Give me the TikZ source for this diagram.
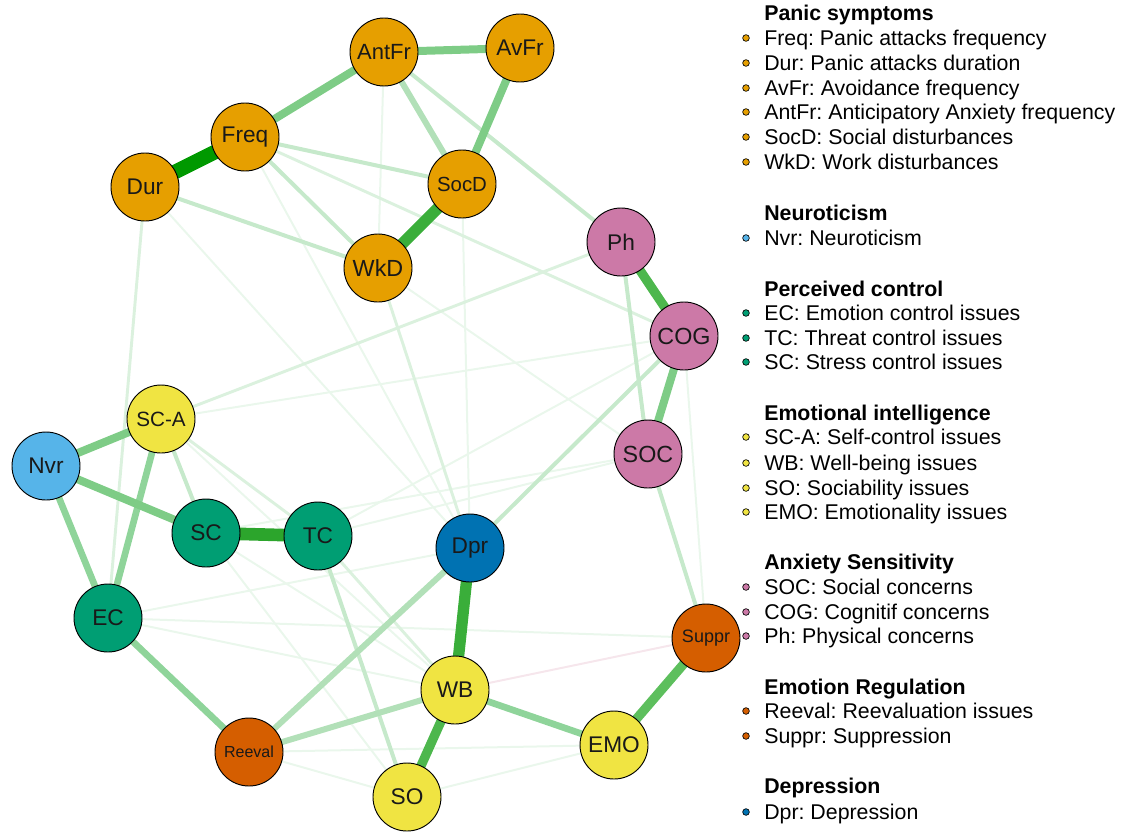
\documentclass[tikz,border=0pt]{standalone}
\usepackage{fontspec}
\setmainfont{Liberation Sans}
\frenchspacing
\usetikzlibrary{backgrounds}
\definecolor{cOr}{HTML}{E69F00}
\definecolor{cSky}{HTML}{56B4E9}
\definecolor{cGrn}{HTML}{009E73}
\definecolor{cYel}{HTML}{F0E442}
\definecolor{cPnk}{HTML}{CC79A7}
\definecolor{cVer}{HTML}{D55E00}
\definecolor{cBlu}{HTML}{0072B2}
\definecolor{eA}{HTML}{009900}
\definecolor{eB}{HTML}{2CA52C}
\definecolor{eC}{HTML}{3AAE3A}
\definecolor{eD}{HTML}{4DB74D}
\definecolor{eE}{HTML}{5DBF5D}
\definecolor{eM}{HTML}{7ECC86}
\definecolor{eMM}{HTML}{8FD49A}
\definecolor{eL}{HTML}{B2E0B8}
\definecolor{eLL}{HTML}{C6E9CB}
\definecolor{eF}{HTML}{DBF1DE}
\definecolor{eVF}{HTML}{EAF7EC}
\definecolor{eNeg}{HTML}{F6E6EC}
\begin{document}
\begin{tikzpicture}[x=0.75pt,y=-0.75pt,
  nd/.style={circle,draw=black,line width=0.7pt,minimum size=51pt,inner sep=0pt,text=black!90,font=\fontsize{17}{19}\selectfont},
  wA/.style={draw=eA,line width=11pt},
  wB/.style={draw=eB,line width=9.5pt},
  wC/.style={draw=eC,line width=8.5pt},
  wD/.style={draw=eD,line width=7pt},
  wE/.style={draw=eE,line width=7pt},
  wM/.style={draw=eM,line width=6pt},
  wMM/.style={draw=eMM,line width=5pt},
  wL/.style={draw=eL,line width=4.5pt},
  wLL/.style={draw=eLL,line width=3pt},
  wF/.style={draw=eF,line width=2.2pt},
  wVF/.style={draw=eVF,line width=1.5pt},
  wNeg/.style={draw=eNeg,line width=1.5pt},
  bul/.style={circle,draw=black,line width=0.5pt,minimum size=5pt,inner sep=0pt},
  lg/.style={anchor=base west,inner sep=0pt,font=\fontsize{16}{19}\selectfont},
  hd/.style={anchor=base west,inner sep=0pt,font=\fontsize{16}{19}\selectfont\bfseries}]
\useasboundingbox (0,0) rectangle (1123,832);
% nodes
\node[nd,fill=cOr,font=\fontsize{16.5}{18}\selectfont] (AntFr) at (384,52) {AntFr};
\node[nd,fill=cOr] (AvFr) at (520,48) {AvFr};
\node[nd,fill=cOr] (Freq) at (245,137) {Freq};
\node[nd,fill=cOr] (Dur) at (145,187) {Dur};
\node[nd,fill=cOr,font=\fontsize{15.3}{17}\selectfont] (SocD) at (462,184) {SocD};
\node[nd,fill=cOr,font=\fontsize{17.5}{19}\selectfont] (WkD) at (378,268) {WkD};
\node[nd,fill=cPnk] (Ph) at (621,242) {Ph};
\node[nd,fill=cPnk,font=\fontsize{17.5}{19}\selectfont] (COG) at (684,336) {COG};
\node[nd,fill=cPnk,font=\fontsize{17.5}{19}\selectfont] (SOC) at (648,454) {SOC};
\node[nd,fill=cYel,font=\fontsize{15.5}{17}\selectfont] (SCA) at (161,419) {SC-A};
\node[nd,fill=cSky] (Nvr) at (46,466) {Nvr};
\node[nd,fill=cGrn] (SC) at (206,533) {SC};
\node[nd,fill=cGrn] (TC) at (318,536) {TC};
\node[nd,fill=cBlu] (Dpr) at (470,548) {Dpr};
\node[nd,fill=cGrn] (EC) at (108,618) {EC};
\node[nd,fill=cVer,font=\fontsize{13.5}{15}\selectfont] (Suppr) at (706,638) {Suppr};
\node[nd,fill=cYel] (WB) at (455,690) {WB};
\node[nd,fill=cYel] (EMO) at (614,745) {EMO};
\node[nd,fill=cVer,font=\fontsize{12}{14}\selectfont] (Reeval) at (249,752) {Reeval};
\node[nd,fill=cYel] (SO) at (407,797) {SO};
% edges
\begin{scope}[on background layer]
\draw[wNeg] (WB.center) -- (Suppr.center);
\draw[wVF] (SCA.center) -- (COG.center);
\draw[wVF] (SCA.center) -- (WB.center);
\draw[wVF] (Reeval.center) -- (SO.center);
\draw[wVF] (SO.center) -- (EMO.center);
\draw[wVF] (Reeval.center) -- (EMO.center);
\draw[wVF] (EC.center) -- (WB.center);
\draw[wVF] (EC.center) -- (Dpr.center);
\draw[wVF] (EC.center) -- (Suppr.center);
\draw[wVF] (SC.center) -- (SOC.center);
\draw[wVF] (TC.center) -- (SOC.center);
\draw[wVF] (TC.center) -- (COG.center);
\draw[wVF] (SC.center) -- (WB.center);
\draw[wVF] (SC.center) -- (SO.center);
\draw[wVF] (Dur.center) -- (Dpr.center);
\draw[wVF] (Freq.center) -- (Dpr.center);
\draw[wVF] (SocD.center) -- (Dpr.center);
\draw[wVF] (WkD.center) -- (SOC.center);
\draw[wVF] (COG.center) -- (Suppr.center);
\draw[wVF] (AntFr.center) -- (WkD.center);
\draw[wF] (Freq.center) -- (COG.center);
\draw[wF] (TC.center) -- (WB.center);
\draw[wF] (SCA.center) -- (TC.center);
\draw[wF] (WkD.center) -- (Dpr.center);
\draw[wF] (SCA.center) -- (Ph.center);
\draw[wF] (Dur.center) -- (EC.center);
\draw[wLL] (Freq.center) -- (WkD.center);
\draw[wLL] (Freq.center) -- (SocD.center);
\draw[wLL] (Dur.center) -- (WkD.center);
\draw[wLL] (AntFr.center) -- (Ph.center);
\draw[wLL] (SOC.center) -- (Suppr.center);
\draw[wLL] (Ph.center) -- (SOC.center);
\draw[wLL] (TC.center) -- (SO.center);
\draw[wLL] (COG.center) -- (Dpr.center);
\draw[wLL] (SCA.center) -- (SC.center);
\draw[wL] (Reeval.center) -- (WB.center);
\draw[wL] (AntFr.center) -- (SocD.center);
\draw[wL] (Reeval.center) -- (Dpr.center);
\draw[wMM] (SCA.center) -- (EC.center);
\draw[wMM] (Nvr.center) -- (EC.center);
\draw[wMM] (EC.center) -- (Reeval.center);
\draw[wMM] (WB.center) -- (EMO.center);
\draw[wM] (AntFr.center) -- (AvFr.center);
\draw[wM] (Freq.center) -- (AntFr.center);
\draw[wM] (AvFr.center) -- (SocD.center);
\draw[wM] (COG.center) -- (SOC.center);
\draw[wM] (Nvr.center) -- (SCA.center);
\draw[wM] (Nvr.center) -- (SC.center);
\draw[wE] (Suppr.center) -- (EMO.center);
\draw[wD] (WB.center) -- (SO.center);
\draw[wD] (Ph.center) -- (COG.center);
\draw[wC] (SocD.center) -- (WkD.center);
\draw[wC] (Dpr.center) -- (WB.center);
\draw[wB] (SC.center) -- (TC.center);
\draw[wA] (Dur.center) -- (Freq.center);
\end{scope}
% legend
\node[hd] (h1) at (764,20) {Panic symptoms};
\node[bul,fill=cOr] (b1) at (746,38) {}; \node[lg] (t1) at (764,45.5) {Freq: Panic attacks frequency};
\node[bul,fill=cOr] (b2) at (746,63) {}; \node[lg] (t2) at (764,70.5) {Dur: Panic attacks duration};
\node[bul,fill=cOr] (b3) at (746,88) {}; \node[lg] (t3) at (764,95.5) {AvFr: Avoidance frequency};
\node[bul,fill=cOr] (b4) at (746,112) {}; \node[lg] (t4) at (764,119.5) {AntFr: Anticipatory Anxiety frequency};
\node[bul,fill=cOr] (b5) at (746,137) {}; \node[lg] (t5) at (764,144.5) {SocD: Social disturbances};
\node[bul,fill=cOr] (b6) at (746,162) {}; \node[lg] (t6) at (764,169.5) {WkD: Work disturbances};
\node[hd] (h2) at (764,220) {Neuroticism};
\node[bul,fill=cSky] (b7) at (746,238) {}; \node[lg] (t7) at (764,245.5) {Nvr: Neuroticism};
\node[hd] (h3) at (764,296) {Perceived control};
\node[bul,fill=cGrn] (b8) at (746,313) {}; \node[lg] (t8) at (764,320.5) {EC: Emotion control issues};
\node[bul,fill=cGrn] (b9) at (746,338) {}; \node[lg] (t9) at (764,345.5) {TC: Threat control issues};
\node[bul,fill=cGrn] (b10) at (746,362) {}; \node[lg] (t10) at (764,369.5) {SC: Stress control issues};
\node[hd] (h4) at (764,420) {Emotional intelligence};
\node[bul,fill=cYel] (b11) at (746,437) {}; \node[lg] (t11) at (764,444.5) {SC-A: Self-control issues};
\node[bul,fill=cYel] (b12) at (746,463) {}; \node[lg] (t12) at (764,470.5) {WB: Well-being issues};
\node[bul,fill=cYel] (b13) at (746,488) {}; \node[lg] (t13) at (764,495.5) {SO: Sociability issues};
\node[bul,fill=cYel] (b14) at (746,512) {}; \node[lg] (t14) at (764,519.5) {EMO: Emotionality issues};
\node[hd] (h5) at (764,569) {Anxiety Sensitivity};
\node[bul,fill=cPnk] (b15) at (746,587) {}; \node[lg] (t15) at (764,594.5) {SOC: Social concerns};
\node[bul,fill=cPnk] (b16) at (746,612) {}; \node[lg] (t16) at (764,619.5) {COG: Cognitif concerns};
\node[bul,fill=cPnk] (b17) at (746,636) {}; \node[lg] (t17) at (764,643.5) {Ph: Physical concerns};
\node[hd] (h6) at (764,694) {Emotion Regulation};
\node[bul,fill=cVer] (b18) at (746,711) {}; \node[lg] (t18) at (764,718.5) {Reeval: Reevaluation issues};
\node[bul,fill=cVer] (b19) at (746,736) {}; \node[lg] (t19) at (764,743.5) {Suppr: Suppression};
\node[hd] (h7) at (764,793) {Depression};
\node[bul,fill=cBlu] (b20) at (746,812) {}; \node[lg] (t20) at (764,819.5) {Dpr: Depression};
\end{tikzpicture}
\end{document}
